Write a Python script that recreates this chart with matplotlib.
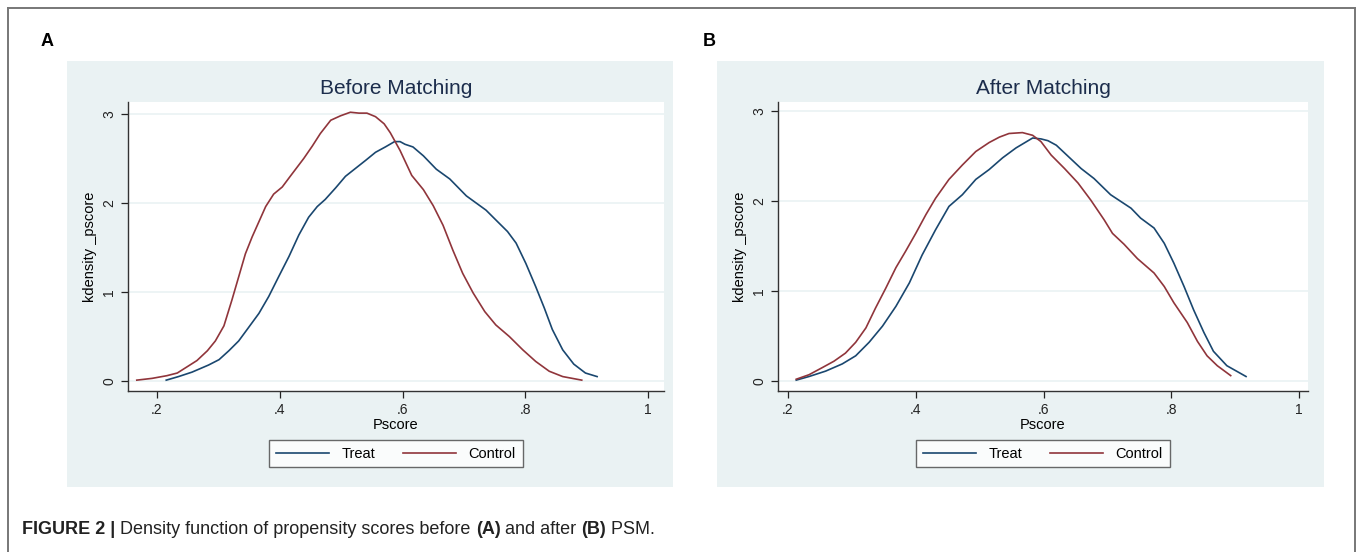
import numpy as np
import matplotlib
matplotlib.use("Agg")
from matplotlib import pyplot as plt
from matplotlib.patches import Rectangle
from matplotlib.lines import Line2D

plt.rcParams['font.family'] = ['Liberation Sans', 'DejaVu Sans']

# panel A: treated group density
treat_a_x = [0.215, 0.235, 0.257, 0.284, 0.301, 0.317, 0.333, 0.349, 0.366, 0.382,
             0.398, 0.415, 0.431, 0.447, 0.461, 0.474, 0.491, 0.507, 0.518, 0.540,
             0.556, 0.572, 0.587, 0.596, 0.604, 0.617, 0.634, 0.655, 0.677, 0.704,
             0.736, 0.752, 0.771, 0.785, 0.801, 0.817, 0.831, 0.844, 0.861, 0.879,
             0.898, 0.917]
treat_a_y = [0.01, 0.05, 0.10, 0.18, 0.24, 0.34, 0.45, 0.60, 0.76, 0.95,
             1.17, 1.40, 1.64, 1.84, 1.96, 2.04, 2.17, 2.30, 2.36, 2.48,
             2.57, 2.63, 2.69, 2.69, 2.66, 2.63, 2.53, 2.38, 2.27, 2.08,
             1.92, 1.81, 1.68, 1.55, 1.32, 1.06, 0.82, 0.58, 0.35, 0.19,
             0.09, 0.05]

# panel A: control group before matching
ctrl_before_x = [0.167, 0.192, 0.216, 0.233, 0.249, 0.265, 0.282, 0.295, 0.309, 0.322,
                 0.333, 0.344, 0.355, 0.366, 0.377, 0.390, 0.404, 0.417, 0.428, 0.439,
                 0.453, 0.466, 0.483, 0.499, 0.515, 0.529, 0.542, 0.556, 0.570, 0.580,
                 0.596, 0.615, 0.634, 0.650, 0.666, 0.682, 0.698, 0.715, 0.734, 0.752,
                 0.774, 0.796, 0.817, 0.839, 0.861, 0.892]
ctrl_before_y = [0.01, 0.03, 0.06, 0.09, 0.16, 0.23, 0.34, 0.45, 0.62, 0.91,
                 1.17, 1.43, 1.62, 1.79, 1.96, 2.10, 2.18, 2.30, 2.40, 2.50,
                 2.64, 2.78, 2.93, 2.98, 3.02, 3.01, 3.01, 2.97, 2.89, 2.79,
                 2.59, 2.31, 2.15, 1.97, 1.75, 1.47, 1.21, 0.99, 0.78, 0.63,
                 0.50, 0.35, 0.22, 0.11, 0.05, 0.01]

# panel B: treated group density
treat_b_x = [0.213, 0.233, 0.259, 0.285, 0.306, 0.327, 0.348, 0.369, 0.390, 0.410,
             0.431, 0.452, 0.473, 0.494, 0.515, 0.536, 0.557, 0.583, 0.596, 0.607,
             0.620, 0.635, 0.659, 0.679, 0.705, 0.737, 0.752, 0.773, 0.789, 0.804,
             0.820, 0.835, 0.851, 0.866, 0.887, 0.917]
treat_b_y = [0.01, 0.05, 0.11, 0.19, 0.28, 0.43, 0.61, 0.83, 1.09, 1.40,
             1.68, 1.94, 2.07, 2.24, 2.35, 2.48, 2.59, 2.70, 2.69, 2.67,
             2.62, 2.52, 2.36, 2.25, 2.07, 1.92, 1.81, 1.70, 1.53, 1.31,
             1.05, 0.79, 0.54, 0.33, 0.17, 0.05]

# panel B: control group after matching
ctrl_after_x = [0.213, 0.233, 0.254, 0.272, 0.290, 0.306, 0.322, 0.337, 0.353, 0.369,
                0.384, 0.400, 0.416, 0.431, 0.452, 0.473, 0.494, 0.515, 0.531, 0.546,
                0.567, 0.583, 0.596, 0.612, 0.633, 0.654, 0.674, 0.695, 0.708, 0.726,
                0.747, 0.773, 0.789, 0.804, 0.825, 0.841, 0.856, 0.872, 0.893]
ctrl_after_y = [0.02, 0.07, 0.15, 0.22, 0.31, 0.43, 0.59, 0.81, 1.03, 1.26,
                1.44, 1.64, 1.85, 2.03, 2.24, 2.40, 2.55, 2.65, 2.71, 2.75,
                2.76, 2.73, 2.66, 2.51, 2.36, 2.20, 2.01, 1.79, 1.64, 1.52,
                1.36, 1.20, 1.05, 0.87, 0.65, 0.44, 0.28, 0.17, 0.06]

xticks = [0.2, 0.4, 0.6, 0.8, 1.0]
xticklabels = ['.2', '.4', '.6', '.8', '1']
yticks = [0, 1, 2, 3]

W, H = 1357, 552
BG = '#eaf2f3'
NAVY = '#1a476f'
MAROON = '#90353b'

fig = plt.figure(figsize=(W / 100, H / 100), dpi=100)


def box(x0, y0, x1, y1):
    # pixel box -> figure fraction
    return [x0 / W, 1 - y1 / H, (x1 - x0) / W, (y1 - y0) / H]


# outer frame (open at the bottom)
for xs, ys in [([8, 8], [552, 8]), ([8, 1355], [8, 8]), ([1355, 1355], [8, 552])]:
    fig.add_artist(Line2D([x / W for x in xs], [1 - y / H for y in ys],
                          color='#777777', lw=1.4))

panels = [
    dict(bg=(67, 61, 673, 487), ax=(128, 102, 664, 391), xlim=(0.1527, 1.026),
         ylim=(-0.112, 3.135), title='Before Matching', letter='A', lx=47,
         tx=treat_a_x, ty=treat_a_y, cx=ctrl_before_x, cy=ctrl_before_y),
    dict(bg=(717, 61, 1324, 487), ax=(778, 102, 1308, 391), xlim=(0.1844, 1.014),
         ylim=(-0.111, 3.10), title='After Matching', letter='B', lx=709,
         tx=treat_b_x, ty=treat_b_y, cx=ctrl_after_x, cy=ctrl_after_y),
]

for p in panels:
    x0, y0, x1, y1 = p['bg']
    fig.add_artist(Rectangle((x0 / W, 1 - y1 / H), (x1 - x0) / W, (y1 - y0) / H,
                             transform=fig.transFigure, facecolor=BG,
                             edgecolor='none', zorder=0))
    fig.text(p['lx'] / W, 1 - 41 / H, p['letter'], fontsize=13, fontweight='bold',
             ha='center', va='center')

    ax = fig.add_axes(box(*p['ax']))
    ax.set_facecolor('white')
    ax.plot(p['tx'], p['ty'], color=NAVY, lw=1.2, label='Treat')
    ax.plot(p['cx'], p['cy'], color=MAROON, lw=1.2, label='Control')
    ax.set_xlim(*p['xlim'])
    ax.set_ylim(*p['ylim'])
    ax.set_xticks(xticks)
    ax.set_xticklabels(xticklabels)
    ax.set_yticks(yticks)
    ax.set_yticklabels([str(t) for t in yticks], rotation=90, va='center')
    ax.tick_params(colors='#222222', labelsize=10, length=5, width=0.9)
    ax.grid(axis='y', color=BG, lw=1.2)
    ax.set_axisbelow(True)
    for s in ['top', 'right']:
        ax.spines[s].set_visible(False)
    for s in ['left', 'bottom']:
        ax.spines[s].set_color('#333333')
        ax.spines[s].set_linewidth(1.0)
    ax.set_xlabel('Pscore', fontsize=10.5, labelpad=1)
    ax.set_ylabel('kdensity _pscore', fontsize=10.5, labelpad=4)
    ax.set_title(p['title'], fontsize=15, color='#1c2d4c', pad=6)
    leg = ax.legend(loc='upper center', bbox_to_anchor=(0.5, -0.145), ncol=2,
                    fancybox=False, edgecolor='#444444', fontsize=10.5,
                    handlelength=3.6, columnspacing=1.9, handletextpad=0.9,
                    borderpad=0.45)
    leg.get_frame().set_linewidth(1.0)

# caption with mixed bold / regular pieces
pieces = [('FIGURE 2 | ', 'bold'), ('Density function of propensity scores before ', 'normal'),
          ('(A)', 'bold'), (' and after ', 'normal'), ('(B)', 'bold'), (' PSM.', 'normal')]
fig.canvas.draw()
r = fig.canvas.get_renderer()
xpos = 22
for txt, wt in pieces:
    t = fig.text(xpos / W, 1 - 530 / H, txt, fontsize=13, fontweight=wt,
                 va='center', ha='left', color='#222222')
    xpos += t.get_window_extent(renderer=r).width

fig.savefig('out.png', dpi=100)
